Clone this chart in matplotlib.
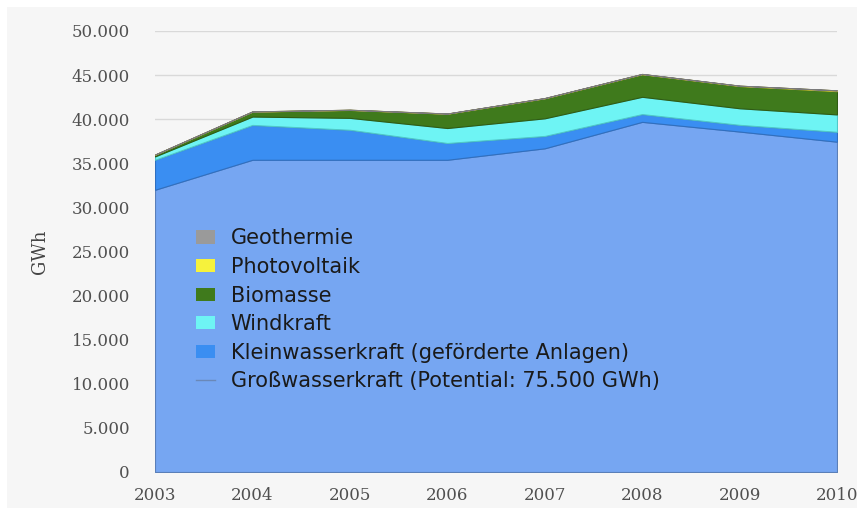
import matplotlib
matplotlib.use("Agg")
import matplotlib.pyplot as plt
from matplotlib.patches import Patch, Rectangle
from matplotlib.lines import Line2D

years = [2003, 2004, 2005, 2006, 2007, 2008, 2009, 2010]
gross_wasser = [32000, 35400, 35400, 35400, 36700, 39700, 38600, 37450]
klein_wasser = [3400, 3950, 3400, 1900, 1400, 880, 760, 1120]
windkraft = [380, 950, 1350, 1700, 2000, 1960, 1880, 1970]
biomasse = [190, 560, 900, 1620, 2270, 2560, 2520, 2640]
photovoltaik = [17, 20, 20, 21, 25, 30, 40, 90]
geothermie = [1, 1, 2, 2, 2, 2, 2, 1]

colors = ["#76a6f2", "#3a8ef2", "#6ef4f4", "#3f7a1c", "#f6f23c", "#9a9a9a"]
edges = ["#5a7fb8", "#2f6fc0", "#4fc8c8", "#2f5c14", "#c8c030", "#7a7a7a"]
yticks = list(range(0, 50001, 5000))
ytick_labels = ["0" if v == 0 else f"{v//1000}.000" for v in yticks]

W, H = 864, 516
fig = plt.figure(figsize=(W / 100, H / 100), dpi=100)
fig.patch.set_facecolor("white")
fig.patches.append(Rectangle((7 / W, (H - 508) / H), 850 / W, 501 / H,
                             transform=fig.transFigure, facecolor="#f6f6f6",
                             edgecolor="none", zorder=-10))

ax = fig.add_axes([155 / W, 44 / H, 682 / W, 441 / H])
ax.set_facecolor("none")

series = [gross_wasser, klein_wasser, windkraft, biomasse, photovoltaik, geothermie]
polys = ax.stackplot(years, *series, colors=colors, zorder=2)
for p, ec in zip(polys, edges):
    p.set_edgecolor(ec)
    p.set_linewidth(0.8)

ax.set_xlim(2003, 2010)
ax.set_ylim(0, 50000)
ax.set_yticks(yticks)
ax.set_yticklabels(ytick_labels)
ax.set_xticks(years)
ax.set_xticklabels([str(y) for y in years])
ax.grid(axis="y", color="#d9d9d9", linewidth=1, zorder=0)
ax.set_axisbelow(True)
for s in ax.spines.values():
    s.set_visible(False)
ax.tick_params(axis="both", length=0, labelsize=12, labelcolor="#505050")
ax.tick_params(axis="y", pad=18)
ax.tick_params(axis="x", pad=11)
for lab in ax.get_xticklabels() + ax.get_yticklabels():
    lab.set_family("DejaVu Serif")
fig.text(40 / W, 1 - 252 / H, "GWh", family="DejaVu Serif", fontsize=13,
         color="#444444", rotation=90, ha="center", va="center")

handles = [Patch(facecolor=colors[5], edgecolor="none"),
           Patch(facecolor=colors[4], edgecolor="none"),
           Patch(facecolor=colors[3], edgecolor="none"),
           Patch(facecolor=colors[2], edgecolor="none"),
           Patch(facecolor=colors[1], edgecolor="none"),
           Line2D([0], [0], color="#6a88b8", lw=1)]
leg_labels = ["Geothermie", "Photovoltaik", "Biomasse", "Windkraft",
              "Kleinwasserkraft (geförderte Anlagen)",
              "Großwasserkraft (Potential: 75.500 GWh)"]
leg = ax.legend(handles, leg_labels, loc="upper left",
                bbox_to_anchor=(186 / W, (H - 218) / H),
                bbox_transform=fig.transFigure, frameon=False,
                prop={"family": "DejaVu Sans", "size": 15},
                handlelength=0.9, handleheight=0.6, handletextpad=0.75,
                labelspacing=0.41, borderpad=0)
for t in leg.get_texts():
    t.set_color("#1a1a1a")

fig.savefig("out.png", dpi=100, facecolor=fig.get_facecolor())
